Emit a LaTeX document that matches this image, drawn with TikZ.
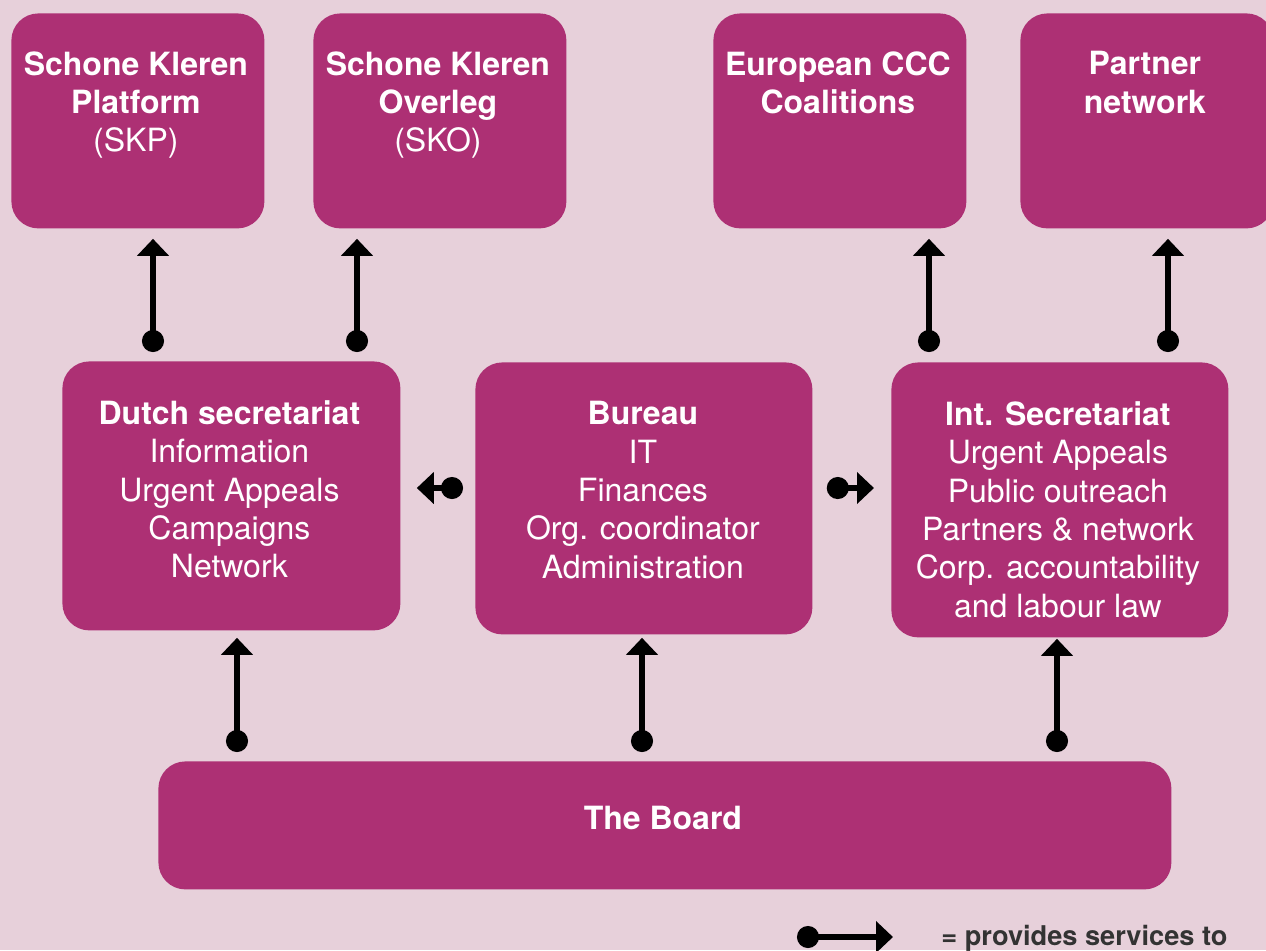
\documentclass[tikz,border=0pt]{standalone}
\usepackage{fontspec}
\setmainfont{TeX Gyre Heros}
\usepackage{tikz}
\usetikzlibrary{arrows.meta}

\definecolor{bgpink}{RGB}{231,208,218}
\definecolor{boxpurple}{RGB}{173,48,116}
\definecolor{legendgray}{RGB}{51,51,51}

\begin{document}
\begin{tikzpicture}[x=0.5pt, y=-0.5pt,
    box/.style={fill=boxpurple, rounded corners=13.5pt, inner sep=0pt, anchor=north west},
    topbox/.style={box, minimum width=126.5pt, minimum height=107.5pt},
    txt/.style={text=white, align=center, inner sep=0pt, anchor=north,
        font=\fontsize{16}{19.2}\selectfont},
    svc/.style={line width=2.8pt, {Circle[length=11pt]}-{Triangle[length=8.5pt,width=15.5pt]}}
]
    \fill[bgpink] (0,0) rectangle (1266,950);
    \useasboundingbox (0,0) rectangle (1266,950);
    \clip (0,0) rectangle (1266,950);

    % top row
    \node[topbox] (skp) at (11,13) {};
    \node[topbox] (sko) at (313,13) {};
    \node[topbox] (eur) at (713,13) {};
    \node[topbox] (partner) at (1020,13) {};
    \node[txt] (skpT) at ([xshift=-1pt,yshift=-19pt]skp.north) {\textbf{Schone Kleren}\\\textbf{Platform}\\(SKP)};
    \node[txt] (skoT) at ([xshift=-1pt,yshift=-19pt]sko.north) {\textbf{Schone Kleren}\\\textbf{Overleg}\\(SKO)};
    \node[txt] (eurT) at ([xshift=-1pt,yshift=-19pt]eur.north) {\textbf{European CCC}\\\textbf{Coalitions}};
    \node[txt] (partnerT) at ([xshift=-1pt,yshift=-19pt]partner.north) {\textbf{Partner}\\\textbf{network}};

    % middle row
    \node[box, minimum width=169pt, minimum height=134.5pt] (dutch) at (62,361) {};
    \node[box, minimum width=168.5pt, minimum height=136pt] (bureau) at (475,362) {};
    \node[box, minimum width=168.5pt, minimum height=137.5pt] (int) at (891,362) {};
    \node[txt] (dutchT) at ([xshift=-1pt,yshift=-19.5pt]dutch.north)
        {\textbf{Dutch secretariat}\\Information\\Urgent Appeals\\Campaigns\\Network};
    \node[txt] (bureauT) at ([xshift=-0.5pt,yshift=-19.5pt]bureau.north)
        {\textbf{Bureau}\\IT\\Finances\\Org. coordinator\\Administration};
    \node[txt] (intT) at ([xshift=-1pt,yshift=-19.5pt]int.north)
        {\textbf{Int. Secretariat}\\Urgent Appeals\\Public outreach\\Partners \& network\\Corp. accountability\\and labour law};

    % board
    \node[box, minimum width=506.5pt, minimum height=64pt] (board) at (158,761) {};
    \node[txt] (boardT) at ([xshift=-1pt,yshift=-22.5pt]board.north) {\textbf{The Board}};

    % connectors
    \coordinate (a1) at (153,0);
    \coordinate (a2) at (357,0);
    \coordinate (a3) at (929,0);
    \coordinate (a4) at (1168,0);
    \coordinate (b1) at (237,0);
    \coordinate (b2) at (642,0);
    \coordinate (b3) at (1057,0);
    \coordinate (mid) at (0,488);

    \draw[svc, shorten <=4.5pt, shorten >=5pt] (a1 |- dutch.north) -- (a1 |- skp.south);
    \draw[svc, shorten <=4.5pt, shorten >=5pt] (a2 |- dutch.north) -- (a2 |- sko.south);
    \draw[svc, shorten <=5pt, shorten >=5pt] (a3 |- int.north) -- (a3 |- eur.south);
    \draw[svc, shorten <=5pt, shorten >=5pt] (a4 |- int.north) -- (a4 |- partner.south);

    \draw[svc, shorten <=4.5pt, shorten >=3.5pt] (b1 |- board.north) -- (b1 |- dutch.south);
    \draw[svc, shorten <=4.5pt, shorten >=1.5pt] (b2 |- board.north) -- (b2 |- bureau.south);
    \draw[svc, shorten <=4.5pt, shorten >=0.5pt] (b3 |- board.north) -- (b3 |- int.south);

    \draw[svc, shorten <=6pt, shorten >=8pt] (bureau.west |- mid) -- (dutch.east |- mid);
    \draw[svc, shorten <=7pt, shorten >=8.5pt] (bureau.east |- mid) -- (int.west |- mid);

    % legend
    \coordinate (legA) at (797,937);
    \coordinate (legB) at (893,937);
    \draw[svc] (legA) -- (legB);
    \node[inner sep=0pt, anchor=base west, text=legendgray,
        font=\fontsize{13.6}{16}\selectfont\bfseries] (legT) at (941,945) {= provides services to};
\end{tikzpicture}
\end{document}
